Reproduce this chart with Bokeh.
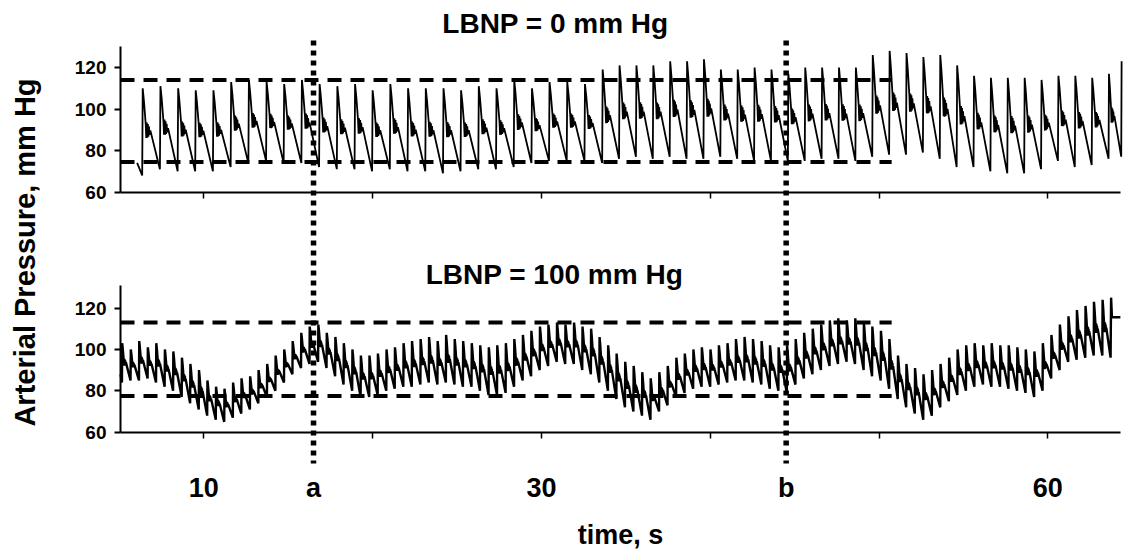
import numpy as np
from bokeh.plotting import figure
from bokeh.models import Range1d, LinearAxis, FixedTicker
from bokeh.core.properties import value
from bokeh.embed import file_html
from bokeh.resources import INLINE

# ------------------------------------------------------------------ data
# LBNP = 0 mm Hg : beat onsets (s), systolic peaks and diastolic troughs (mm Hg)
top_beat_t = [6.35, 7.40, 8.45, 9.49, 10.54, 11.59, 12.64, 13.69, 14.73, 15.78,
              16.83, 17.88, 18.93, 19.97, 21.02, 22.07, 23.12, 24.17, 25.21, 26.26,
              27.31, 28.36, 29.41, 30.45, 31.50, 32.55, 33.60,
              34.60, 35.60, 36.60, 37.60, 38.60, 39.60, 40.60, 41.60, 42.60, 43.60,
              44.60, 45.60, 46.60, 47.60, 48.60, 49.60, 50.60, 51.60, 52.60, 53.60,
              54.60, 55.60, 56.60, 57.60, 58.60, 59.60, 60.60, 61.60, 62.60, 63.60,
              64.35]
top_sys = [110, 111, 110, 109, 109, 113, 114, 113, 112, 114,
           112, 111, 112, 109, 112, 110, 110, 110, 109, 111,
           110, 114, 110, 113, 113, 112, 119,
           121, 121, 121, 123, 123, 124, 119, 119, 120, 119,
           117, 120, 120, 120, 120, 126, 128, 127, 125, 126,
           121, 116, 115, 115, 115, 114, 116, 116, 115, 117,
           123]
top_dia = [68, 71, 70, 70, 70, 72, 74, 75, 74, 74,
           72, 71, 71, 70, 71, 70, 70, 69, 70, 71,
           71, 72, 74, 75, 75, 75, 74,
           76, 77, 76, 77, 76, 76, 77, 76, 75, 75,
           75, 75, 76, 76, 75, 77, 78, 78, 79, 76,
           72, 72, 70, 69, 69, 71, 75, 72, 73, 76,
           77]
top_lead_t = [6.05]
top_lead_v = [74.0]
top_end_t = 64.42

# LBNP = 100 mm Hg
bottom_beat_t = [5.15, 5.66, 6.16, 6.67, 7.17, 7.68, 8.18, 8.69, 9.19, 9.70,
                 10.20, 10.71, 11.21, 11.72, 12.22, 12.73, 13.23, 13.74, 14.24, 14.75,
                 15.25, 15.76, 16.26, 16.77, 17.27, 17.78, 18.28, 18.79, 19.29, 19.80,
                 20.30, 20.81, 21.31, 21.82, 22.32, 22.83, 23.33, 23.84, 24.34, 24.85,
                 25.35, 25.86, 26.36, 26.87, 27.37, 27.88, 28.38, 28.89, 29.39, 29.90,
                 30.40, 30.91, 31.41, 31.92, 32.42, 32.93, 33.43, 33.94, 34.44, 34.95,
                 35.45, 35.96, 36.46, 36.97, 37.47, 37.98, 38.48, 38.99, 39.49, 40.00,
                 40.50, 41.01, 41.51, 42.02, 42.52, 43.03, 43.53, 44.04, 44.54, 45.05,
                 45.55, 46.06, 46.56, 47.07, 47.57, 48.08, 48.58, 49.09, 49.59, 50.10,
                 50.60, 51.11, 51.61, 52.12, 52.62, 53.13, 53.63, 54.14, 54.64, 55.15,
                 55.65, 56.16, 56.66, 57.17, 57.67, 58.18, 58.68, 59.19, 59.69, 60.20,
                 60.70, 61.21, 61.71, 62.22, 62.72, 63.23]
bottom_sys = [103, 100, 104, 101, 103, 100, 99, 96, 93, 90,
              85, 82, 81, 84, 86, 87, 90, 93, 97, 100,
              104, 108, 111, 112, 108, 106, 103, 100, 97, 97,
              98, 100, 101, 103, 104, 105, 106, 104, 107, 105,
              104, 103, 102, 101, 102, 103, 105, 107, 109, 111,
              112, 113, 112, 113, 111, 110, 106, 102, 98, 94,
              92, 89, 86, 89, 92, 96, 98, 100, 101, 100,
              102, 103, 105, 106, 105, 104, 102, 101, 102, 105,
              108, 110, 112, 114, 115, 114, 115, 113, 111, 109,
              105, 97, 93, 91, 88, 90, 93, 96, 100, 102,
              103, 102, 103, 102, 102, 101, 100, 99, 103, 107,
              112, 116, 119, 121, 123, 124]
bottom_dia = [84, 85, 85, 86, 84, 82, 80, 77, 74, 71,
              68, 66, 65, 67, 69, 71, 74, 77, 80, 84,
              88, 91, 93, 94, 91, 87, 83, 80, 77, 77,
              78, 80, 81, 82, 82, 83, 84, 83, 84, 83,
              82, 82, 80, 78, 78, 79, 82, 85, 87, 90,
              92, 94, 93, 93, 90, 88, 84, 80, 76, 72,
              70, 68, 66, 70, 73, 77, 79, 81, 82, 82,
              83, 84, 85, 85, 84, 83, 81, 80, 79, 83,
              86, 88, 90, 92, 93, 94, 93, 90, 87, 85,
              81, 76, 72, 69, 66, 68, 72, 75, 78, 80,
              82, 83, 82, 82, 81, 80, 79, 77, 80, 86,
              90, 94, 95, 96, 97, 97]
bottom_lead_t = [5.07]
bottom_lead_v = [88.0]
bottom_tail_t = [63.72, 63.75, 63.80, 64.30]
bottom_tail_v = [96.0, 125.0, 115.5, 115.5]

# shape of one pressure pulse: fraction of the beat vs fraction of (peak - trough)
pulse_phase = [0.00, 0.03, 0.10, 0.20, 0.23, 0.26, 0.29, 0.32, 0.35, 0.38, 0.41, 0.46, 1.00]
pulse_frac = [0.00, 1.00, 0.85, 0.58, 0.42, 0.60, 0.42, 0.58, 0.43, 0.55, 0.45, 0.50, 0.00]

top_ref_levels = [114.0, 74.5]
bottom_ref_levels = [113.0, 77.5]
ref_end_t = 50.75
marker_t = [16.5, 44.5]
tick_t = [10, 20, 30, 40, 50, 60]
label_t = [10, 16.5, 30, 44.5, 60]
label_text = ["10", "a", "30", "b", "60"]
y_ticks = [60, 80, 100, 120]
top_axis_bounds = (60, 130)
bottom_axis_bounds = (60, 131)
panel_titles = ["LBNP = 0 mm Hg", "LBNP = 100 mm Hg"]
x_title = "time, s"
y_title = "Arterial Pressure, mm Hg"


def build_trace(bt, sy, dy, lead_t, lead_v, t_end):
    xs, ys = list(lead_t), list(lead_v)
    n = min(len(bt), len(sy), len(dy))
    for i in range(n):
        t0 = bt[i]
        if i + 1 < n:
            t1, d1 = bt[i + 1], dy[i + 1]
        else:
            t1, d1 = bt[i] + (bt[i] - bt[i - 1]), dy[i]
        d0 = dy[i]
        for ph, fr in zip(pulse_phase, pulse_frac):
            if ph >= 1.0 and i + 1 < n:
                continue
            t = t0 + ph * (t1 - t0)
            base = d0 + (d1 - d0) * ph
            xs.append(t)
            ys.append(base + fr * (sy[i] - base))
    xs, ys = np.array(xs), np.array(ys)
    keep = xs <= t_end
    return xs[keep], ys[keep]


# ------------------------------------------------------------------ layout
W, H = 1123, 551
PX10, PXS = 203.3, 16.88          # pixel of t = 10 s, pixels per second
TOP60, TOPS = 191.5, 2.075        # pixel of 60 mm Hg (upper panel), px per mm Hg
BOT60, BOTS = 431.7, 2.07         # same for lower panel


def t_at(px):
    return 10 + (px - PX10) / PXS


def vt(py):
    return 60 + (TOP60 - py) / TOPS


def vb(py):
    return 60 + (BOT60 - py) / BOTS


T_LEFT = t_at(120)
T_RIGHT = t_at(1120)
FONT = "Liberation Sans"

p = figure(width=W, height=H, output_backend="svg", toolbar_location=None,
           x_range=Range1d(t_at(0), t_at(W)), y_range=Range1d(vt(H), vt(0)),
           x_axis_location=None, y_axis_location=None, min_border=0)
p.extra_y_ranges = {"bot": Range1d(vb(H), vb(0))}
p.outline_line_color = None
p.title.visible = False
for g in p.grid:
    g.visible = False
p.background_fill_color = "white"
p.border_fill_color = "white"

# traces
tx, ty = build_trace(top_beat_t, top_sys, top_dia, top_lead_t, top_lead_v, top_end_t)
p.line(tx, ty, line_color="black", line_width=1.8)
bx, by = build_trace(bottom_beat_t, bottom_sys, bottom_dia, bottom_lead_t, bottom_lead_v,
                     bottom_tail_t[0])
bx = np.concatenate([bx, bottom_tail_t])
by = np.concatenate([by, bottom_tail_v])
p.line(bx, by, y_range_name="bot", line_color="black", line_width=2.4)

# dashed reference levels
p.segment(x0=[T_LEFT] * 2, x1=[ref_end_t] * 2, y0=top_ref_levels, y1=top_ref_levels,
          line_color="black", line_width=4, line_dash="14 9")
p.segment(x0=[T_LEFT] * 2, x1=[ref_end_t] * 2, y0=bottom_ref_levels, y1=bottom_ref_levels,
          y_range_name="bot", line_color="black", line_width=4, line_dash="14 9")

# dotted markers a, b
p.segment(x0=marker_t, x1=marker_t, y0=[vt(40)] * 2, y1=[vt(463)] * 2,
          line_color="black", line_width=5.5, line_dash="5 5")


def style_labels(ax, size):
    ax.major_label_text_font = FONT
    ax.major_label_text_font_style = "bold"
    ax.major_label_text_font_size = size
    ax.major_label_text_color = "black"


# y axes
for rname, bnds in [("default", top_axis_bounds), ("bot", bottom_axis_bounds)]:
    ax = LinearAxis(y_range_name=rname, fixed_location=T_LEFT, bounds=bnds,
                    ticker=FixedTicker(ticks=y_ticks, minor_ticks=[]))
    ax.axis_line_width = 2
    ax.axis_line_color = "black"
    ax.major_tick_line_width = 2
    ax.major_tick_out = 6
    ax.major_tick_in = 0
    ax.minor_tick_out = 0
    ax.minor_tick_in = 0
    ax.major_label_standoff = 8
    style_labels(ax, "19px")
    p.add_layout(ax, "left")

# x axes of each panel (ticks only)
for rname in ["default", "bot"]:
    ax = LinearAxis(y_range_name=rname, fixed_location=60, bounds=(T_LEFT, T_RIGHT),
                    ticker=FixedTicker(ticks=tick_t, minor_ticks=[]))
    ax.axis_line_width = 2
    ax.axis_line_color = "black"
    ax.major_tick_line_width = 1.5
    ax.major_tick_out = 6
    ax.major_tick_in = 0
    ax.minor_tick_out = 0
    ax.minor_tick_in = 0
    ax.major_label_text_color = None
    p.add_layout(ax, "below")

# time labels
lab = LinearAxis(y_range_name="bot", fixed_location=vb(465), bounds=(T_LEFT, T_RIGHT),
                 ticker=FixedTicker(ticks=label_t, minor_ticks=[]),
                 major_label_overrides={t: s for t, s in zip(label_t, label_text)})
lab.axis_line_color = None
lab.major_tick_line_color = None
lab.major_tick_out = 0
lab.major_tick_in = 0
lab.minor_tick_out = 0
lab.minor_tick_in = 0
lab.major_label_standoff = 7
style_labels(lab, "27px")
lab.axis_label = x_title
lab.axis_label_text_font = FONT
lab.axis_label_text_font_style = "bold"
lab.axis_label_text_font_size = "27px"
lab.axis_label_text_color = "black"
lab.axis_label_standoff = 14
p.add_layout(lab, "below")

# panel titles
p.text(x=[t_at(555)], y=[vt(23)], text=[panel_titles[0]], text_font=value(FONT),
       text_font_style="bold", text_font_size="28px", text_align="center",
       text_baseline="middle", text_color="black")
p.text(x=[t_at(554)], y=[vb(274)], text=[panel_titles[1]], y_range_name="bot",
       text_font=value(FONT), text_font_style="bold", text_font_size="28px",
       text_align="center", text_baseline="middle", text_color="black")

# y title
p.text(x=[t_at(24)], y=[vt(252)], text=[y_title], angle=np.pi / 2, text_font=value(FONT),
       text_font_style="bold", text_font_size="29px", text_align="center",
       text_baseline="middle", text_color="black")

open("out.html", "w").write(file_html(p, INLINE))
